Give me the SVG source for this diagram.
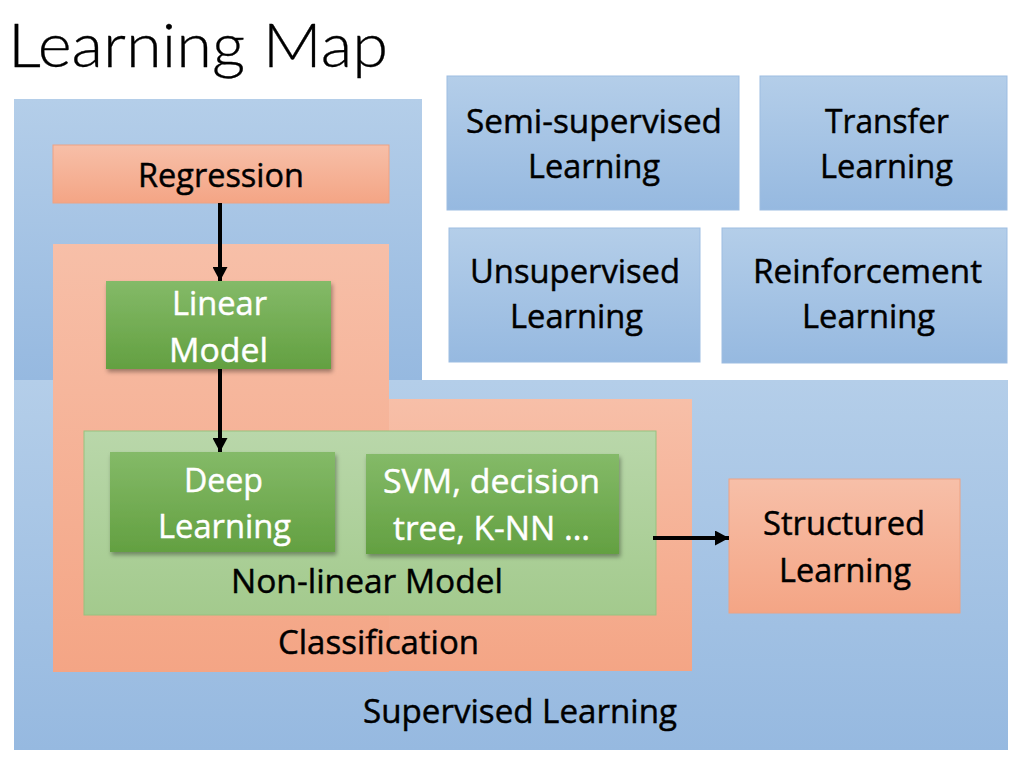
<svg xmlns="http://www.w3.org/2000/svg" width="1024" height="765" viewBox="0 0 1024 765">
<style>
  text { font-family: "Open Sans", Lato, "Liberation Sans", sans-serif; font-size: 33px; text-anchor: middle; fill: #000; stroke: #000; stroke-width: 0.45px; }
  .w { fill: #fff; stroke: #fff; }
  .title { font-family: Lato, "Open Sans", sans-serif; font-size: 62px; font-weight: 300; text-anchor: start; stroke-width: 0.3px; }
  .blue { fill: url(#gBlue); stroke: #9dbde2; stroke-width: 1; }
  .sal { fill: url(#gSal); }
  .salb { fill: url(#gSal); stroke: #eea283; stroke-width: 1; }
  .grn { fill: url(#gGrn); filter: url(#sh); }
  .lgrn { fill: url(#gLGrn); stroke: #97c27f; stroke-width: 1; }
  .arr { stroke: #000; stroke-width: 4; fill: none; marker-end: url(#ah); }
</style>
<defs>
  <linearGradient id="gBlue" x1="0" y1="0" x2="0" y2="1">
    <stop offset="0" stop-color="#b4cee9"/>
    <stop offset="1" stop-color="#96b9e0"/>
  </linearGradient>
  <linearGradient id="gSal" x1="0" y1="0" x2="0" y2="1">
    <stop offset="0" stop-color="#f7bfa8"/>
    <stop offset="1" stop-color="#f4a585"/>
  </linearGradient>
  <linearGradient id="gGrn" x1="0" y1="0" x2="0" y2="1">
    <stop offset="0" stop-color="#84ba68"/>
    <stop offset="1" stop-color="#63a041"/>
  </linearGradient>
  <linearGradient id="gLGrn" x1="0" y1="0" x2="0" y2="1">
    <stop offset="0" stop-color="#b9d7aa"/>
    <stop offset="1" stop-color="#a3ca8d"/>
  </linearGradient>
  <filter id="sh" x="-10%" y="-10%" width="125%" height="130%">
    <feDropShadow dx="1.5" dy="3" stdDeviation="2" flood-color="#000" flood-opacity="0.35"/>
  </filter>
  <marker id="ah" markerUnits="userSpaceOnUse" markerWidth="15" markerHeight="15" refX="14" refY="7.5" orient="auto">
    <path d="M0,0 L14,7.5 L0,15 Z" fill="#000"/>
  </marker>
</defs>

<text class="title" x="8" y="67" textLength="380" lengthAdjust="spacingAndGlyphs">Learning Map</text>

<g id="supervised">
  <rect x="14" y="99" width="408" height="281" fill="url(#gBlue)"/>
  <rect x="14" y="380" width="994" height="370" fill="url(#gBlue)"/>
  <text x="520" y="723" textLength="314" lengthAdjust="spacingAndGlyphs">Supervised Learning</text>
</g>

<g id="classification">
  <rect class="sal" x="53" y="244" width="336" height="428"/>
  <rect class="sal" x="389" y="399" width="303" height="272"/>
  <text x="378.5" y="654" textLength="201" lengthAdjust="spacingAndGlyphs">Classification</text>
</g>

<g id="regression">
  <rect class="salb" x="53" y="145" width="336" height="58"/>
  <text x="221" y="187" textLength="166" lengthAdjust="spacingAndGlyphs">Regression</text>
</g>

<g id="nonlinear">
  <rect class="lgrn" x="84" y="431" width="572" height="184"/>
  <text x="367" y="593" textLength="272" lengthAdjust="spacingAndGlyphs">Non-linear Model</text>
</g>

<g id="linear">
  <rect class="grn" x="106" y="281" width="225" height="88"/>
  <text class="w" x="219.5" y="315" textLength="95" lengthAdjust="spacingAndGlyphs">Linear</text>
  <text class="w" x="218.5" y="362" textLength="99" lengthAdjust="spacingAndGlyphs">Model</text>
</g>

<g id="deep">
  <rect class="grn" x="110" y="452" width="225" height="100"/>
  <text class="w" x="223.5" y="492" textLength="79" lengthAdjust="spacingAndGlyphs">Deep</text>
  <text class="w" x="224.5" y="538" textLength="133" lengthAdjust="spacingAndGlyphs">Learning</text>
</g>

<g id="svm">
  <rect class="grn" x="366" y="454" width="253" height="100"/>
  <text class="w" x="491.5" y="493" textLength="217" lengthAdjust="spacingAndGlyphs">SVM, decision</text>
  <text class="w" x="491.5" y="540" textLength="197" lengthAdjust="spacingAndGlyphs">tree, K-NN …</text>
</g>

<g id="structured">
  <rect class="salb" x="729" y="479" width="231" height="134"/>
  <text x="844" y="535" textLength="162" lengthAdjust="spacingAndGlyphs">Structured</text>
  <text x="845" y="582" textLength="132" lengthAdjust="spacingAndGlyphs">Learning</text>
</g>

<g id="semi">
  <rect class="blue" x="447" y="76" width="292" height="134"/>
  <text x="594" y="133" textLength="256" lengthAdjust="spacingAndGlyphs">Semi-supervised</text>
  <text x="594" y="178" textLength="132" lengthAdjust="spacingAndGlyphs">Learning</text>
</g>

<g id="transfer">
  <rect class="blue" x="760" y="76" width="247" height="134"/>
  <text x="887" y="133" textLength="124" lengthAdjust="spacingAndGlyphs">Transfer</text>
  <text x="886.5" y="178" textLength="133" lengthAdjust="spacingAndGlyphs">Learning</text>
</g>

<g id="unsupervised">
  <rect class="blue" x="449" y="228" width="251" height="134"/>
  <text x="575" y="283" textLength="210" lengthAdjust="spacingAndGlyphs">Unsupervised</text>
  <text x="576.5" y="328" textLength="133" lengthAdjust="spacingAndGlyphs">Learning</text>
</g>

<g id="reinforcement">
  <rect class="blue" x="722" y="228" width="285" height="135"/>
  <text x="867.5" y="283" textLength="229" lengthAdjust="spacingAndGlyphs">Reinforcement</text>
  <text x="868.5" y="328" textLength="133" lengthAdjust="spacingAndGlyphs">Learning</text>
</g>

<g id="connectors">
  <path class="arr" d="M220,203 V281"/>
  <path class="arr" d="M220,369 V452"/>
  <path class="arr" d="M653,538 H729"/>
</g>
</svg>
